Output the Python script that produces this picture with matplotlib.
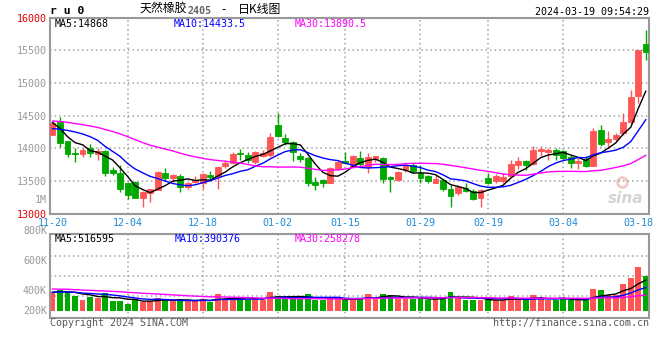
import numpy as np
import pandas as pd
import matplotlib
matplotlib.use("Agg")
import matplotlib.pyplot as plt

############################################################################################################
# data (2023-11-20 .. 2024-03-19)
############################################################################################################

# closes / volumes before 11-20, only used to warm up the moving averages
prior_closes = [14300, 14350, 14420, 14500, 14560, 14610, 14580, 14520, 14480, 14550,
                14620, 14680, 14600, 14530, 14450, 14400, 14470, 14380, 14300,
                14250, 14180, 14100, 14150, 14280, 14350,
                14520, 14550, 14375, 14135]
prior_volumes = [420000, 380000, 450000, 360000, 410000, 390000, 430000, 370000, 350000, 400000,
                 440000, 380000, 360000, 410000, 390000, 370000, 420000, 380000, 360000, 370000,
                 290000, 320000, 300000, 310000, 310000,
                 300000, 330000, 298000, 315000]

opens = [14210, 14420, 14110, 13935, 13915, 14010, 13915, 13965, 13670, 13625,
         13475, 13490, 13245, 13310, 13360, 13625, 13550, 13575, 13405, 13490,
         13475, 13585, 13575, 13735, 13770, 13935, 13900, 13795, 13885, 13900,
         14355, 14165, 14100, 13890, 13855, 13490, 13515, 13475, 13680, 13810,
         13730, 13845, 13720, 13830, 13845, 13555, 13515, 13670, 13745, 13630,
         13575, 13475, 13515, 13385, 13320, 13400, 13350, 13235, 13540, 13495,
         13495, 13570, 13750, 13800, 13765, 13955, 13945, 13980, 13965, 13860,
         13775, 13835, 13735, 14285, 14090, 14145, 14235, 14400, 14805, 15605]
highs = [14425, 14485, 14120, 14000, 14010, 14065, 14000, 13970, 13720, 13745,
         13480, 13495, 13340, 13380, 13660, 13705, 13605, 13610, 13490, 13575,
         13620, 13655, 13725, 13820, 13950, 13990, 13950, 13965, 13975, 14230,
         14545, 14215, 14115, 13925, 13870, 13555, 13525, 13720, 13820, 13950,
         13900, 13965, 13935, 13890, 13860, 13575, 13655, 13795, 13770, 13745,
         13590, 13590, 13525, 13440, 13440, 13465, 13370, 13370, 13625, 13610,
         13620, 13825, 13860, 13825, 14030, 14040, 14005, 14005, 13980, 13905,
         13850, 13890, 14310, 14360, 14260, 14235, 14540, 14890, 15510, 15815]
lows = [14200, 14025, 13870, 13795, 13860, 13860, 13820, 13575, 13590, 13335,
        13220, 13235, 13105, 13185, 13355, 13505, 13490, 13335, 13385, 13465,
        13385, 13505, 13370, 13705, 13760, 13820, 13770, 13760, 13860, 13870,
        14180, 14050, 13810, 13795, 13430, 13360, 13405, 13470, 13670, 13760,
        13720, 13720, 13625, 13795, 13465, 13335, 13505, 13645, 13615, 13465,
        13475, 13465, 13350, 13105, 13285, 13335, 13210, 13105, 13455, 13470,
        13470, 13545, 13690, 13675, 13750, 13890, 13825, 13825, 13825, 13700,
        13685, 13715, 13725, 14040, 14005, 14120, 14210, 14370, 14695, 15355]
closes = [14385, 14085, 13915, 13915, 13975, 13935, 13965, 13615, 13615, 13370,
          13285, 13245, 13335, 13370, 13645, 13550, 13590, 13405, 13475, 13515,
          13605, 13565, 13720, 13780, 13915, 13915, 13820, 13950, 13935, 14180,
          14195, 14100, 13950, 13835, 13465, 13440, 13475, 13695, 13795, 13770,
          13890, 13755, 13870, 13885, 13530, 13525, 13645, 13745, 13660, 13550,
          13500, 13530, 13375, 13270, 13405, 13350, 13225, 13360, 13465, 13570,
          13555, 13765, 13810, 13740, 13980, 13990, 13970, 13905, 13850, 13775,
          13810, 13725, 14260, 14070, 14150, 14210, 14400, 14785, 15510, 15470]
volumes = [307000, 353000, 314000, 252000, 181000, 235000, 207000, 302000, 168000, 168000,
           118000, 198000, 151000, 168000, 213000, 180000, 155000, 198000, 155000, 163000,
           197000, 139000, 286000, 202000, 207000, 207000, 181000, 218000, 181000, 319000,
           252000, 197000, 232000, 188000, 286000, 181000, 181000, 218000, 188000, 171000,
           198000, 218000, 286000, 190000, 286000, 269000, 202000, 197000, 193000, 215000,
           176000, 193000, 235000, 319000, 218000, 176000, 176000, 181000, 181000, 181000,
           181000, 247000, 181000, 176000, 264000, 215000, 181000, 176000, 215000, 176000,
           176000, 171000, 365000, 344000, 264000, 255000, 445000, 549000, 736000, 583000]

date_labels = ["11-20", "12-04", "12-18", "01-02", "01-15", "01-29", "02-19", "03-04", "03-18"]
date_index = [0, 10, 20, 30, 39, 49, 58, 68, 78]

price_ticks = [13000, 13500, 14000, 14500, 15000, 15500, 16000]
volume_tick_labels = ["800K", "600K", "400K", "200K"]

ma_periods = [5, 10, 30]
ma_price_values = ["14868", "14433.5", "13890.5"]
ma_volume_values = ["516595", "390376", "258278"]

############################################################################################################

RED = "#ff5555"
GREEN = "#00a800"
GRID = "#a0a0a0"
GRID_STYLE = (0, (1, 2))
BORDER = "#999999"
LABEL_GRAY = "#999999"
DATE_BLUE = "#1e8ad6"
MA_COLORS = ["#000000", "#0000ff", "#ff00ff"]
MONO = "DejaVu Sans Mono"
CJK = ["Noto Sans CJK SC", "DejaVu Sans"]
FS = 7.2  # 10 px

W, H = 660.0, 360.0


def fx(px):
    return px / W


def fy(py):
    return 1 - py / H


def moving_average(prior, values, n):
    s = pd.Series(prior + values, dtype=float)
    return s.rolling(n).mean().to_numpy()[len(prior):]


def style_axes(ax):
    for side in ["left", "right", "top", "bottom"]:
        ax.spines[side].set_color(BORDER)
        ax.spines[side].set_linewidth(1.5)
    ax.set_xlim(-0.27, 79.47)
    for i in date_index[1:-1]:
        ax.axvline(i, color=GRID, lw=1.1, ls=GRID_STYLE, zorder=1)


def draw_chart():
    x = np.arange(len(closes))
    o = np.array(opens, dtype=float)
    c = np.array(closes, dtype=float)
    up = c >= o
    colors = [RED if u else GREEN for u in up]

    fig = plt.figure(figsize=(W / 100, H / 100), dpi=100, facecolor="w")
    ax = fig.add_axes([fx(50.5), fy(213.65), fx(649.3) - fx(50.5), (213.65 - 17.75) / H])
    axv = fig.add_axes([fx(50.5), fy(318.3), fx(649.3) - fx(50.5), (318.3 - 234.3) / H])

    # ---- candles
    style_axes(ax)
    ax.vlines(x, lows, highs, colors=colors, linewidth=1, zorder=2)
    ax.bar(x, np.abs(c - o), bottom=np.minimum(o, c), width=0.78, color=colors,
           edgecolor=colors, linewidth=0.6, zorder=3)
    for n, col in zip(ma_periods, MA_COLORS):
        ax.plot(x, moving_average(prior_closes, closes, n), color=col, lw=1, zorder=4)

    ax.set_ylim(price_ticks[0], price_ticks[-1])
    ax.set_yticks(price_ticks)
    ax.set_yticklabels([str(t) for t in price_ticks], fontfamily=MONO, fontsize=FS)
    for lbl in ax.get_yticklabels():
        lbl.set_color("#e00000" if lbl.get_text() in ("13000", "16000") else LABEL_GRAY)
    ax.grid(axis="y", color=GRID, lw=1.1, ls=GRID_STYLE, zorder=1)
    ax.set_xticks(date_index)
    ax.set_xticklabels(date_labels, fontfamily=MONO, fontsize=FS, color=DATE_BLUE)
    ax.tick_params(axis="y", length=0, pad=2.5)
    ax.tick_params(axis="x", length=0, pad=3.0)
    fig.text(fx(47), fy(200), "1M", ha="right", va="center", fontfamily=MONO, fontsize=FS, color=LABEL_GRAY)

    # sina watermark
    ax.text(0.99, 0.04, "sina", transform=ax.transAxes, ha="right", va="bottom",
            fontsize=11, fontweight="bold", style="italic", color="#d4d4d4", zorder=0)
    ax.plot([0.955], [0.16], "o", transform=ax.transAxes, ms=7, mfc="none",
            mec="#f0c8c8", mew=2, zorder=0)

    # ---- volume
    style_axes(axv)
    axv.bar(x, volumes, width=0.78, color=colors, linewidth=0, zorder=2)
    for n, col in zip(ma_periods, MA_COLORS):
        axv.plot(x, moving_average(prior_volumes, volumes, n), color=col, lw=1, zorder=3)
    axv.set_ylim(-128000, 1283000)
    axv.set_yticks([250000, 590000, 925000])
    axv.set_yticklabels([])
    axv.set_xticks([])
    axv.grid(axis="y", color=GRID, lw=1.1, ls=GRID_STYLE, zorder=1)
    axv.tick_params(length=0)
    for lbl, py in zip(volume_tick_labels, [231, 261, 291, 311]):
        fig.text(fx(47), fy(py), lbl, ha="right", va="center", fontfamily=MONO, fontsize=FS, color=LABEL_GRAY)

    # ---- moving average captions
    for (n, col, v, px) in zip(ma_periods, MA_COLORS, ma_price_values, [55, 174, 295]):
        fig.text(fx(px), fy(24), "MA%d:%s" % (n, v), ha="left", va="center",
                 fontfamily=MONO, fontsize=FS, color=col)
    for (n, col, v, px) in zip(ma_periods, MA_COLORS, ma_volume_values, [55, 175, 295]):
        fig.text(fx(px), fy(238.5), "MA%d:%s" % (n, v), ha="left", va="center",
                 fontfamily=MONO, fontsize=FS, color=col)

    # ---- header
    fig.text(fx(50), fy(11.5), "r u 0", ha="left", va="center", fontfamily=MONO,
             fontsize=8.2, fontweight="bold", color="black")
    fig.text(fx(140), fy(9.5), "天然橡胶", ha="left", va="center", family=CJK, fontsize=8.6, color="black")
    fig.text(fx(188), fy(10.5), "2405", ha="left", va="center", fontfamily=MONO, fontsize=FS,
             fontweight="bold", color="#666666")
    fig.text(fx(221), fy(9.5), "-", ha="left", va="center", family=CJK, fontsize=8.6, color="black")
    fig.text(fx(238), fy(9.5), "日K线图", ha="left", va="center", family=CJK, fontsize=8.6, color="black")
    fig.text(fx(649), fy(12), "2024-03-19 09:54:29", ha="right", va="center", fontfamily=MONO,
             fontsize=FS, color="black")

    # ---- footer
    fig.text(fx(50), fy(323.5), "Copyright 2024 SINA.COM", ha="left", va="center",
             fontfamily=MONO, fontsize=FS, color="#5a5a5a")
    fig.text(fx(649), fy(323.5), "http://finance.sina.com.cn", ha="right", va="center",
             fontfamily=MONO, fontsize=FS, color="#5a5a5a")

    fig.savefig("out.png", dpi=100, facecolor="w")
    plt.close(fig)


if __name__ == "__main__":
    draw_chart()
